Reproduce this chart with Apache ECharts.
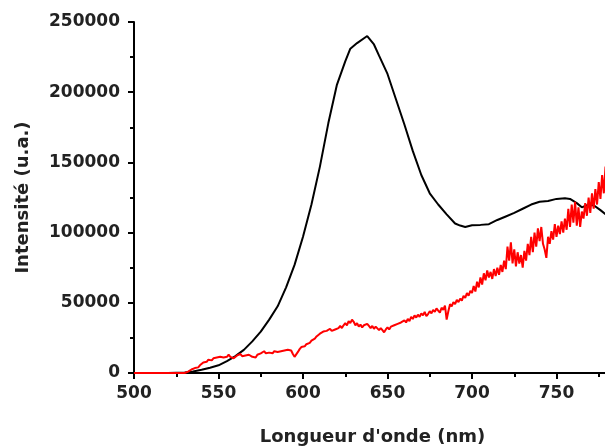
<!DOCTYPE html>
<html>
<head>
<meta charset="utf-8">
<script src="https://cdn.jsdelivr.net/npm/echarts@6/dist/echarts.min.js"></script>
<style>
  html, body { margin: 0; padding: 0; background: #fff; }
  #chart { width: 605px; height: 446px; }
</style>
</head>
<body>
<div id="chart"></div>
<script>
// black spectrum: wavelength (nm) / intensity (thousands of u.a.)
const blackNm = [500, 510, 520, 530, 535, 540, 545, 550, 555, 560, 565, 570, 575, 580, 585, 590, 595, 600, 605, 610,
  615, 620, 625, 628, 632, 638, 642, 645, 650, 655, 660, 665, 670, 675, 680, 685, 690, 693, 696, 700,
  705, 710, 715, 720, 725, 730, 735, 740, 745, 750, 755, 758, 762, 765, 768, 772, 776, 779]
const blackK = [0, 0, 0, 0.3, 1, 2.3, 3.8, 5.5, 8.5, 12, 16.5, 22.5, 29.5, 38, 47.5, 61, 77, 97, 120, 147,
  178, 205, 222, 231, 235, 240, 234, 226, 213, 195, 177, 158, 141, 128, 120, 113, 106.5, 105, 104, 105.2,
  105.5, 106, 109, 111.5, 114, 117, 120, 122, 122.5, 124, 124.5, 124, 121, 118, 119.5, 119.5, 116, 113]

// red spectrum: one value per nm starting at 500 nm (thousands of u.a.)
const redStartNm = 500
const redK = [
  0, 0, 0, 0, 0, 0, 0, 0, 0, 0,
  0, 0, 0, 0, 0, 0, 0, 0, 0, 0,
  0, 0, 0, 0, 0, 0, 0, 0, 0, 0,
  0, 0.5, 1, 1.5, 2.5, 3, 3.5, 4.5, 4, 5.5,
  6, 7.5, 6.5, 8, 9.5, 8.5, 9, 10.5, 9.5, 11,
  10.5, 11.5, 12.5, 11, 12, 11.5, 13, 11.5, 12, 10.5,
  11.5, 12.5, 11.5, 13.5, 12, 11, 12.5, 11.5, 13, 12,
  11.5, 12.5, 11, 13, 12.5, 14, 13, 15.5, 14, 15,
  14.5, 15, 14, 15.5, 14.5, 15, 14, 15.5, 14.5, 16,
  15, 16.5, 15.5, 16, 13.5, 11.5, 12.5, 15, 17, 18.5,
  17.5, 19, 20.5, 19.5, 21.5, 23, 22, 24.5, 26, 25,
  28, 27, 29.5, 28.5, 30, 29, 31.5, 30, 29, 31,
  30.5, 32, 33.5, 32, 34, 35.5, 34, 37, 35.5, 38,
  36.5, 34, 35.5, 33, 34.5, 32.5, 34, 33, 35, 33.5,
  32, 33.5, 31.5, 33, 32, 30.5, 32, 30.5, 29, 31,
  32.5, 31, 33, 32, 34, 33, 35, 34, 36, 35,
  37.5, 36, 38.5, 37, 40, 38.5, 41, 39.5, 41.5, 40,
  42.5, 41, 43.5, 40.5, 42, 44, 42.5, 45, 43.5, 46,
  44.5, 43, 46.5, 45, 48, 38, 44, 49, 47.5, 50.5,
  49, 52, 50.5, 53, 51.5, 55, 53.5, 57, 55, 58.5,
  57, 62, 58, 65, 61, 68, 63, 71, 66, 73,
  68, 72, 67, 74, 69, 75, 70, 77, 72, 80,
  74, 90, 80, 93, 78, 88, 76, 86, 78, 84,
  75, 87, 80, 92, 84, 97, 86, 100, 90, 103,
  94, 104, 92, 88, 82, 97, 92, 101, 95, 106,
  97, 105, 99, 108, 100, 110, 102, 117, 104, 120,
  107, 122, 105, 118, 104, 115, 110, 121, 112, 125,
  114, 128, 117, 131, 120, 136, 124, 141, 128, 147
]

const xTicks = { min: 500, max: 800, interval: 50 }
const yTicks = { min: 0, max: 250000, interval: 50000 }

const blackData = blackNm.map((nm, i) => [nm, blackK[i] * 1000])
const redData = redK.map((v, i) => [redStartNm + i, v * 1000])

const labelFont = { color: '#222', fontFamily: 'DejaVu Sans', fontWeight: 'bold', fontSize: 17 }

const chart = echarts.init(document.getElementById('chart'))
chart.setOption({
  animation: false,
  grid: { left: 134, right: -36, top: 22, bottom: 73, outerBoundsMode: 'none' },
  xAxis: {
    type: 'value',
    min: xTicks.min,
    max: xTicks.max,
    interval: xTicks.interval,
    name: "Longueur d'onde (nm)",
    nameLocation: 'middle',
    nameGap: 55,
    nameTextStyle: { ...labelFont, fontSize: 18, padding: [0, 30, 0, 0] },
    axisLine: { lineStyle: { color: '#000', width: 2 } },
    axisTick: { length: 6, lineStyle: { color: '#000', width: 2 } },
    minorTick: { show: true, splitNumber: 2, length: 4, lineStyle: { color: '#000', width: 2 } },
    axisLabel: { ...labelFont, margin: 12, formatter: v => String(v) },
    splitLine: { show: false }
  },
  yAxis: {
    type: 'value',
    min: yTicks.min,
    max: yTicks.max,
    interval: yTicks.interval,
    name: 'Intensité (u.a.)',
    nameLocation: 'middle',
    nameGap: 102,
    nameTextStyle: { ...labelFont, fontSize: 18 },
    axisLine: { show: true, lineStyle: { color: '#000', width: 2 } },
    axisTick: { show: true, length: 6, lineStyle: { color: '#000', width: 2 } },
    minorTick: { show: true, splitNumber: 2, length: 4, lineStyle: { color: '#000', width: 2 } },
    axisLabel: { ...labelFont, margin: 14, formatter: v => String(v) },
    splitLine: { show: false }
  },
  series: [
    {
      type: 'line',
      data: blackData,
      showSymbol: false,
      lineStyle: { color: '#000', width: 2 },
      z: 2
    },
    {
      type: 'line',
      data: redData,
      showSymbol: false,
      lineStyle: { color: '#ff0000', width: 2 },
      z: 3
    }
  ]
})
</script>
</body>
</html>
